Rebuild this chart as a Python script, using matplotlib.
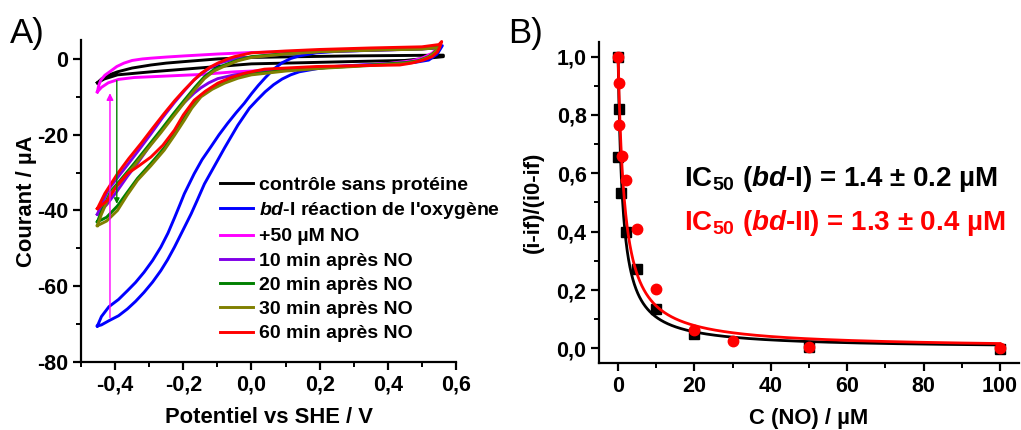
import numpy as np
import matplotlib
matplotlib.use("Agg")
import matplotlib.pyplot as plt
from matplotlib.ticker import MultipleLocator, FuncFormatter

plt.rcParams.update({
    'font.family': ['Liberation Sans', 'DejaVu Sans'],
    'font.weight': 'bold',
    'mathtext.fontset': 'custom',
    'mathtext.rm': 'Liberation Sans:bold',
    'mathtext.it': 'Liberation Sans:bold:italic',
    'mathtext.bf': 'Liberation Sans:bold',
})

# ---------------- Panel A data (potential V, current uA) ----------------
labels_A = ["contrôle sans protéine", "$\\mathit{bd}$-I réaction de l'oxygène", "+50 µM NO",
            "10 min après NO", "20 min après NO", "30 min après NO", "60 min après NO"]
colors_A = ['#000000', '#0000FF', '#FF00FF', '#8000E8', '#008000', '#808000', '#FF0000']

ctrl_E = [-0.452, -0.44, -0.42, -0.393, -0.35, -0.295, -0.25, -0.197, -0.099, 0.0, 0.29, 0.563,
          0.563, 0.45, 0.29, 0.15, 0.0, -0.099, -0.197, -0.295, -0.393, -0.432, -0.452]
ctrl_I = [-6.3, -5.3, -4.3, -3.4, -2.4, -1.6, -1.1, -0.7, 0.0, 0.4, 0.8, 1.0,
          0.6, -0.4, -0.7, -1.0, -1.3, -2.0, -2.7, -3.4, -4.2, -5.3, -6.3]

bd1_E = [-0.452, -0.44, -0.418, -0.39, -0.364, -0.34, -0.315, -0.29, -0.266, -0.245, -0.226, -0.21,
         -0.197, -0.168, -0.145, -0.119, -0.095, -0.070, -0.045, -0.021, 0.0, 0.02, 0.04, 0.065,
         0.09, 0.115, 0.14, 0.19, 0.25, 0.40, 0.53, 0.56,
         0.545, 0.52, 0.48, 0.40, 0.30, 0.24, 0.19, 0.14, 0.115, 0.09, 0.065, 0.04, 0.017, -0.006,
         -0.04, -0.079, -0.11, -0.138, -0.16, -0.177, -0.197, -0.226, -0.246, -0.266, -0.29, -0.315,
         -0.34, -0.364, -0.39, -0.418, -0.44, -0.452]
bd1_I = [-70.5, -68.0, -65.4, -63.5, -61.2, -59.0, -56.3, -53.2, -49.7, -46.0, -42.0, -38.5,
         -35.6, -30.3, -26.6, -23.2, -20.0, -17.0, -14.2, -11.7, -9.2, -7.0, -5.0, -2.7,
         -1.0, 0.1, 0.8, 1.6, 2.0, 2.4, 2.8, 3.5,
         1.3, -0.3, -0.9, -1.3, -1.7, -2.0, -2.6, -3.4, -4.2, -5.3, -6.8, -8.7, -10.8, -13.0,
         -17.5, -23.5, -28.5, -33.0, -37.5, -40.9, -44.5, -49.7, -53.0, -55.9, -58.9, -61.6,
         -64.0, -66.0, -67.8, -69.1, -70.2, -70.5]

no50_E = [-0.452, -0.448, -0.442, -0.43, -0.413, -0.395, -0.374, -0.35, -0.32, -0.295, -0.25, -0.197,
          -0.099, 0.0, 0.15, 0.3, 0.45, 0.53, 0.55,
          0.53, 0.5, 0.47, 0.4, 0.3, 0.2, 0.1, 0.0, -0.05, -0.148, -0.246, -0.344, -0.39, -0.42,
          -0.44, -0.452]
no50_I = [-8.7, -7.0, -5.6, -4.3, -3.2, -2.0, -1.1, -0.4, 0.0, 0.2, 0.5, 0.8,
          1.3, 1.7, 2.0, 2.3, 2.7, 3.0, 3.3,
          1.5, 0.2, -0.5, -1.2, -1.8, -2.3, -2.8, -3.2, -3.4, -4.1, -4.5, -4.9, -5.4, -6.3,
          -7.5, -8.7]

m10_E = [-0.452, -0.44, -0.42, -0.39, -0.364, -0.33, -0.295, -0.26, -0.226, -0.195, -0.168, -0.14,
         -0.12, -0.09, -0.05, 0.0, 0.1, 0.2, 0.35, 0.5, 0.55,
         0.535, 0.52, 0.49, 0.45, 0.3, 0.2, 0.1, 0.0, -0.05, -0.099, -0.125, -0.148, -0.168, -0.197,
         -0.226, -0.256, -0.295, -0.33, -0.364, -0.395, -0.425, -0.452]
m10_I = [-41.0, -38.5, -34.5, -31.0, -28.0, -24.0, -19.8, -15.4, -11.5, -8.2, -5.5, -3.5,
         -2.3, -1.0, 0.0, 0.5, 1.3, 1.9, 2.3, 2.6, 3.0,
         1.5, 0.5, -0.5, -1.0, -1.8, -2.3, -2.9, -3.6, -4.2, -5.2, -6.3, -7.6, -9.0, -11.5,
         -14.5, -18.0, -22.5, -27.0, -31.0, -35.0, -38.5, -41.0]

m20_E = [-0.452, -0.44, -0.413, -0.38, -0.344, -0.305, -0.266, -0.23, -0.197, -0.165, -0.138, -0.11,
         -0.079, -0.04, 0.0, 0.1, 0.2, 0.35, 0.5, 0.55,
         0.535, 0.52, 0.49, 0.45, 0.3, 0.2, 0.1, 0.0, -0.04, -0.079, -0.115, -0.148, -0.175, -0.197,
         -0.226, -0.256, -0.295, -0.334, -0.365, -0.393, -0.425, -0.452]
m20_I = [-43.0, -40.3, -35.0, -31.5, -27.6, -23.2, -18.8, -14.6, -10.9, -7.4, -4.7, -2.8,
         -1.6, -0.3, 0.6, 1.4, 2.0, 2.4, 2.7, 3.1,
         1.6, 0.6, -0.5, -1.0, -1.9, -2.4, -3.0, -4.0, -4.8, -6.0, -7.6, -9.6, -12.4, -15.5,
         -19.6, -23.5, -27.6, -31.5, -35.3, -38.8, -41.8, -43.0]

m30_E = [-0.452, -0.44, -0.413, -0.38, -0.344, -0.305, -0.266, -0.23, -0.197, -0.165, -0.138, -0.11,
         -0.079, -0.04, 0.0, 0.1, 0.2, 0.35, 0.5, 0.55,
         0.535, 0.52, 0.49, 0.45, 0.3, 0.2, 0.1, 0.0, -0.04, -0.079, -0.115, -0.148, -0.175, -0.197,
         -0.226, -0.256, -0.295, -0.334, -0.365, -0.393, -0.425, -0.452]
m30_I = [-44.0, -41.0, -35.5, -32.0, -28.2, -23.8, -19.5, -15.3, -11.5, -8.0, -5.2, -3.2,
         -1.9, -0.5, 0.4, 1.3, 1.9, 2.3, 2.6, 3.0,
         1.5, 0.5, -0.6, -1.2, -2.0, -2.5, -3.2, -4.2, -5.1, -6.4, -8.0, -10.0, -13.0, -16.2,
         -20.2, -24.1, -28.2, -32.0, -36.0, -40.0, -42.8, -44.0]

m60_E = [-0.452, -0.43, -0.393, -0.36, -0.324, -0.29, -0.256, -0.225, -0.197, -0.17, -0.148, -0.12,
         -0.099, -0.07, -0.05, -0.02, 0.0, 0.1, 0.2, 0.35, 0.5, 0.55, 0.558,
         0.552, 0.545, 0.53, 0.504, 0.47, 0.435, 0.3, 0.19, 0.1, 0.038, 0.01, -0.021, -0.06,
         -0.099, -0.135, -0.168, -0.2, -0.226, -0.26, -0.295, -0.33, -0.364, -0.395, -0.423, -0.452]
m60_I = [-39.5, -35.5, -30.3, -26.3, -22.3, -18.3, -14.4, -11.0, -8.2, -5.7, -3.8, -2.1,
         -1.1, 0.0, 0.6, 1.2, 1.6, 2.1, 2.5, 2.9, 3.2, 3.8, 4.6,
         3.0, 1.8, 0.6, -0.3, -1.1, -1.6, -1.8, -2.0, -2.4, -2.7, -3.2, -3.8, -4.9,
         -6.4, -8.5, -10.9, -14.8, -18.8, -22.8, -25.9, -28.2, -30.3, -33.5, -37.4, -39.5]

curves_A = [(ctrl_E, ctrl_I), (bd1_E, bd1_I), (no50_E, no50_I), (m10_E, m10_I),
            (m20_E, m20_I), (m30_E, m30_I), (m60_E, m60_I)]

# annotation arrows (E, I_start, I_end)
arrow_magenta = (-0.415, -69.0, -8.3)
arrow_green = (-0.395, -5.0, -39.0)

# ---------------- Panel B data ----------------
conc_bd1 = [0, 0.35, 0.1, 0.7, 2, 5, 10, 20, 50, 100]
ratio_bd1 = [1.0, 0.821, 0.656, 0.533, 0.398, 0.272, 0.135, 0.048, 0.004, -0.003]
conc_bd2 = [0, 0.2, 0.35, 1.0, 2.2, 5, 10, 20, 30, 50, 100]
ratio_bd2 = [1.0, 0.909, 0.767, 0.661, 0.577, 0.41, 0.204, 0.062, 0.025, 0.005, 0.003]
# fit parameters (dose-response, y = 1/(1+(x/IC)^h))
fit_bd1 = (1.2, 1.0)
fit_bd2 = (1.7, 1.0)
ic_text_bd1 = "IC$_{50}$ ($\\mathit{bd}$-I) = 1.4 ± 0.2 µM"
ic_text_bd2 = "IC$_{50}$ ($\\mathit{bd}$-II) = 1.3 ± 0.4 µM"

W, H = 1021, 430
fig = plt.figure(figsize=(W / 100, H / 100), dpi=100)

def px_axes(l, r, t, b):
    return fig.add_axes([l / W, 1 - b / H, (r - l) / W, (b - t) / H])

TICK_FS = 15.5
LAB_FS = 15.8

def style(ax):
    for s in ['top', 'right']:
        ax.spines[s].set_visible(False)
    for s in ['left', 'bottom']:
        ax.spines[s].set_linewidth(1.6)
    ax.tick_params(which='major', direction='out', length=6, width=1.6, labelsize=TICK_FS, pad=3)
    ax.tick_params(which='minor', direction='out', length=3.5, width=1.4)
    for lab in ax.get_xticklabels() + ax.get_yticklabels():
        lab.set_fontweight('bold')

def comma(fmt):
    return FuncFormatter(lambda v, p: (fmt % v).replace('.', ',').replace('−', '-'))

# ---------- Panel A ----------
axA = px_axes(81, 456, 40, 362)
handles = []
for (E, I), c, lab in zip(curves_A, colors_A, labels_A):
    h, = axA.plot(E, I, color=c, lw=2.1, label=lab, solid_joinstyle='round')
    handles.append(h)
axA.annotate('', xy=(arrow_magenta[0], arrow_magenta[2]), xytext=(arrow_magenta[0], arrow_magenta[1]),
             arrowprops=dict(arrowstyle='-|>', color='#FF00FF', lw=1.0, mutation_scale=10))
axA.annotate('', xy=(arrow_green[0], arrow_green[2]), xytext=(arrow_green[0], arrow_green[1]),
             arrowprops=dict(arrowstyle='-|>', color='#008000', lw=1.0, mutation_scale=8))
axA.set_xlim(-0.5, 0.6)
axA.set_ylim(-80, 5)
axA.xaxis.set_major_locator(MultipleLocator(0.2))
axA.xaxis.set_minor_locator(MultipleLocator(0.1))
axA.yaxis.set_major_locator(MultipleLocator(20))
axA.yaxis.set_minor_locator(MultipleLocator(10))
axA.xaxis.set_major_formatter(comma('%.1f'))
axA.yaxis.set_major_formatter(FuncFormatter(lambda v, p: '%d' % round(v)))
style(axA)
axA.set_xlabel('Potentiel vs SHE / V', fontsize=LAB_FS, fontweight='bold', labelpad=8)
axA.set_ylabel('Courant / µA', fontsize=LAB_FS, fontweight='bold', labelpad=0)
axA.legend(handles=handles, loc='upper left', bbox_to_anchor=(220 / W, 1 - 176 / H),
           bbox_transform=fig.transFigure, frameon=False, borderpad=0,
           borderaxespad=0, handlelength=1.7, handletextpad=0.3, labelspacing=0.34,
           prop={'weight': 'bold', 'size': 14})
fig.text(10 / W, 1 - 43 / H, 'A)', fontsize=25, fontweight='normal', ha='left', va='baseline')

# ---------- Panel B ----------
axB = px_axes(599, 1019, 42, 363)
xx = np.linspace(0, 100, 2001)
axB.plot(xx, 1 / (1 + (xx / fit_bd1[0]) ** fit_bd1[1]), color='black', lw=2.0)
axB.plot(conc_bd1, ratio_bd1, 's', color='black', ms=7.5, ls='none')
axB.plot(xx, 1 / (1 + (xx / fit_bd2[0]) ** fit_bd2[1]), color='#FF0000', lw=2.0)
axB.plot(conc_bd2, ratio_bd2, 'o', color='#FF0000', ms=7.5, ls='none')
axB.set_xlim(-5, 105)
axB.set_ylim(-0.05, 1.05)
axB.xaxis.set_major_locator(MultipleLocator(20))
axB.xaxis.set_minor_locator(MultipleLocator(10))
axB.yaxis.set_major_locator(MultipleLocator(0.2))
axB.yaxis.set_minor_locator(MultipleLocator(0.1))
axB.yaxis.set_major_formatter(comma('%.1f'))
style(axB)
axB.set_xlabel('C (NO) / µM', fontsize=LAB_FS, fontweight='bold', labelpad=8)
axB.set_ylabel('(i-if)/(i0-if)', fontsize=LAB_FS, fontweight='bold', labelpad=9)
fig.text(684 / W, 1 - 186 / H, ic_text_bd1, fontsize=20, color='black', ha='left', va='baseline')
fig.text(684 / W, 1 - 230 / H, ic_text_bd2, fontsize=20, color='#FF0000', ha='left', va='baseline')
fig.text(508 / W, 1 - 43 / H, 'B)', fontsize=25, fontweight='normal', ha='left', va='baseline')

fig.savefig('out.png', dpi=100)
